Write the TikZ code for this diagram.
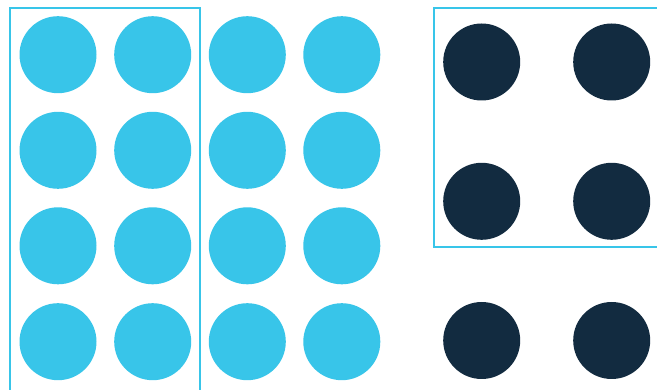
\documentclass[tikz,border=0pt]{standalone}
\definecolor{lblue}{HTML}{38C5E9}
\definecolor{navy}{HTML}{122B40}
\begin{document}
\begin{tikzpicture}[x=1pt,y=-1pt,
  lightdot/.style={circle,fill=lblue,draw=none,minimum size=77pt,inner sep=0pt},
  darkdot/.style={circle,fill=navy,draw=none,minimum size=77pt,inner sep=0pt},
  frame/.style={draw=lblue,line width=2pt}]
\useasboundingbox[fill=white] (0,0) rectangle (657,390);
% light dots 4x4
\foreach \c/\x in {1/58,2/152.7,3/247.3,4/341.8}{
  \foreach \r/\y in {1/54.7,2/150.3,3/245.8,4/341.7}{
    \node[lightdot] (l\r\c) at (\x,\y) {};
  }
}
% dark dots 3x2
\foreach \c/\x in {1/481.7,2/611.7}{
  \foreach \r/\y in {1/62,2/201.3,3/340.5}{
    \node[darkdot] (d\r\c) at (\x,\y) {};
  }
}
% frames
\draw[frame] (9.5,392) -- (9.5,8) -- (200,8) -- (200,392);
\draw[frame] (660,8) -- (433.5,8) -- (433.5,247.3) -- (660,247.3);
\end{tikzpicture}
\end{document}
